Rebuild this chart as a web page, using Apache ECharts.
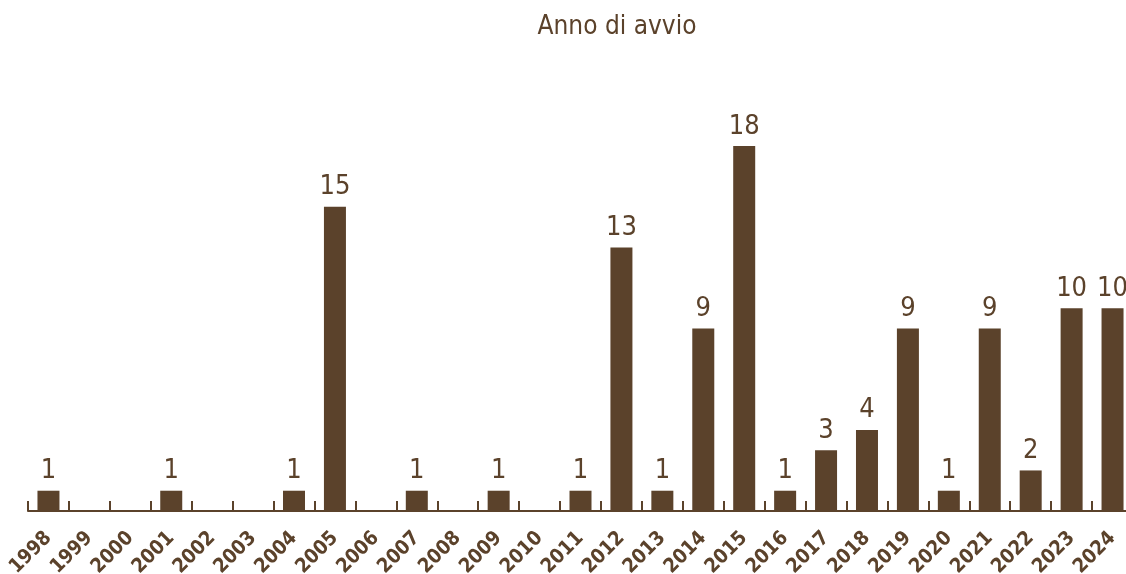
<!DOCTYPE html>
<html>
<head>
<meta charset="utf-8">
<script src="https://cdn.jsdelivr.net/npm/echarts@6/dist/echarts.min.js"></script>
<style>
  html, body { margin: 0; padding: 0; background: #fff; }
  #main { width: 1126px; height: 574px; }
</style>
</head>
<body>
<div id="main"></div>
<script>
// anni e numero di avvii
var anni = ['1998','1999','2000','2001','2002','2003','2004','2005','2006','2007','2008','2009','2010','2011',
            '2012','2013','2014','2015','2016','2017','2018','2019','2020','2021','2022','2023','2024'];
var avvii = [1, 0, 0, 1, 0, 0, 1, 15, 0, 1, 0, 1, 0, 1, 13, 1, 9, 18, 1, 3, 4, 9, 1, 9, 2, 10, 10];

var marrone = '#5b422b';
var font = '"DejaVu Sans Condensed", sans-serif';

var myChart = echarts.init(document.getElementById('main'));

var option = {
    animation: false,
    title: {
        text: 'Anno di avvio',
        left: 612,
        top: 9,
        textAlign: 'center',
        textStyle: { color: marrone, fontSize: 26, fontWeight: 'normal', fontFamily: font }
    },
    grid: { left: 28, top: 146, width: 1105, height: 365, outerBoundsMode: 'none', containLabel: false },
    xAxis: {
        type: 'category',
        data: anni,
        axisLine: { lineStyle: { color: marrone, width: 2 } },
        axisTick: { show: true, inside: true, length: 10, lineStyle: { color: marrone, width: 2 } },
        axisLabel: {
            interval: 0,
            rotate: 45,
            margin: 24,
            color: marrone,
            fontSize: 20,
            fontWeight: 'bold',
            fontFamily: font
        }
    },
    yAxis: {
        type: 'value',
        min: 0,
        max: 18,
        show: false
    },
    series: [{
        type: 'bar',
        data: avvii,
        barWidth: 22,
        itemStyle: { color: marrone },
        label: {
            show: true,
            position: 'top',
            distance: 6,
            color: marrone,
            fontSize: 27,
            fontFamily: font,
            formatter: function (p) { return p.value > 0 ? p.value : ''; }
        }
    }]
};
myChart.setOption(option);
</script>
</body>
</html>
